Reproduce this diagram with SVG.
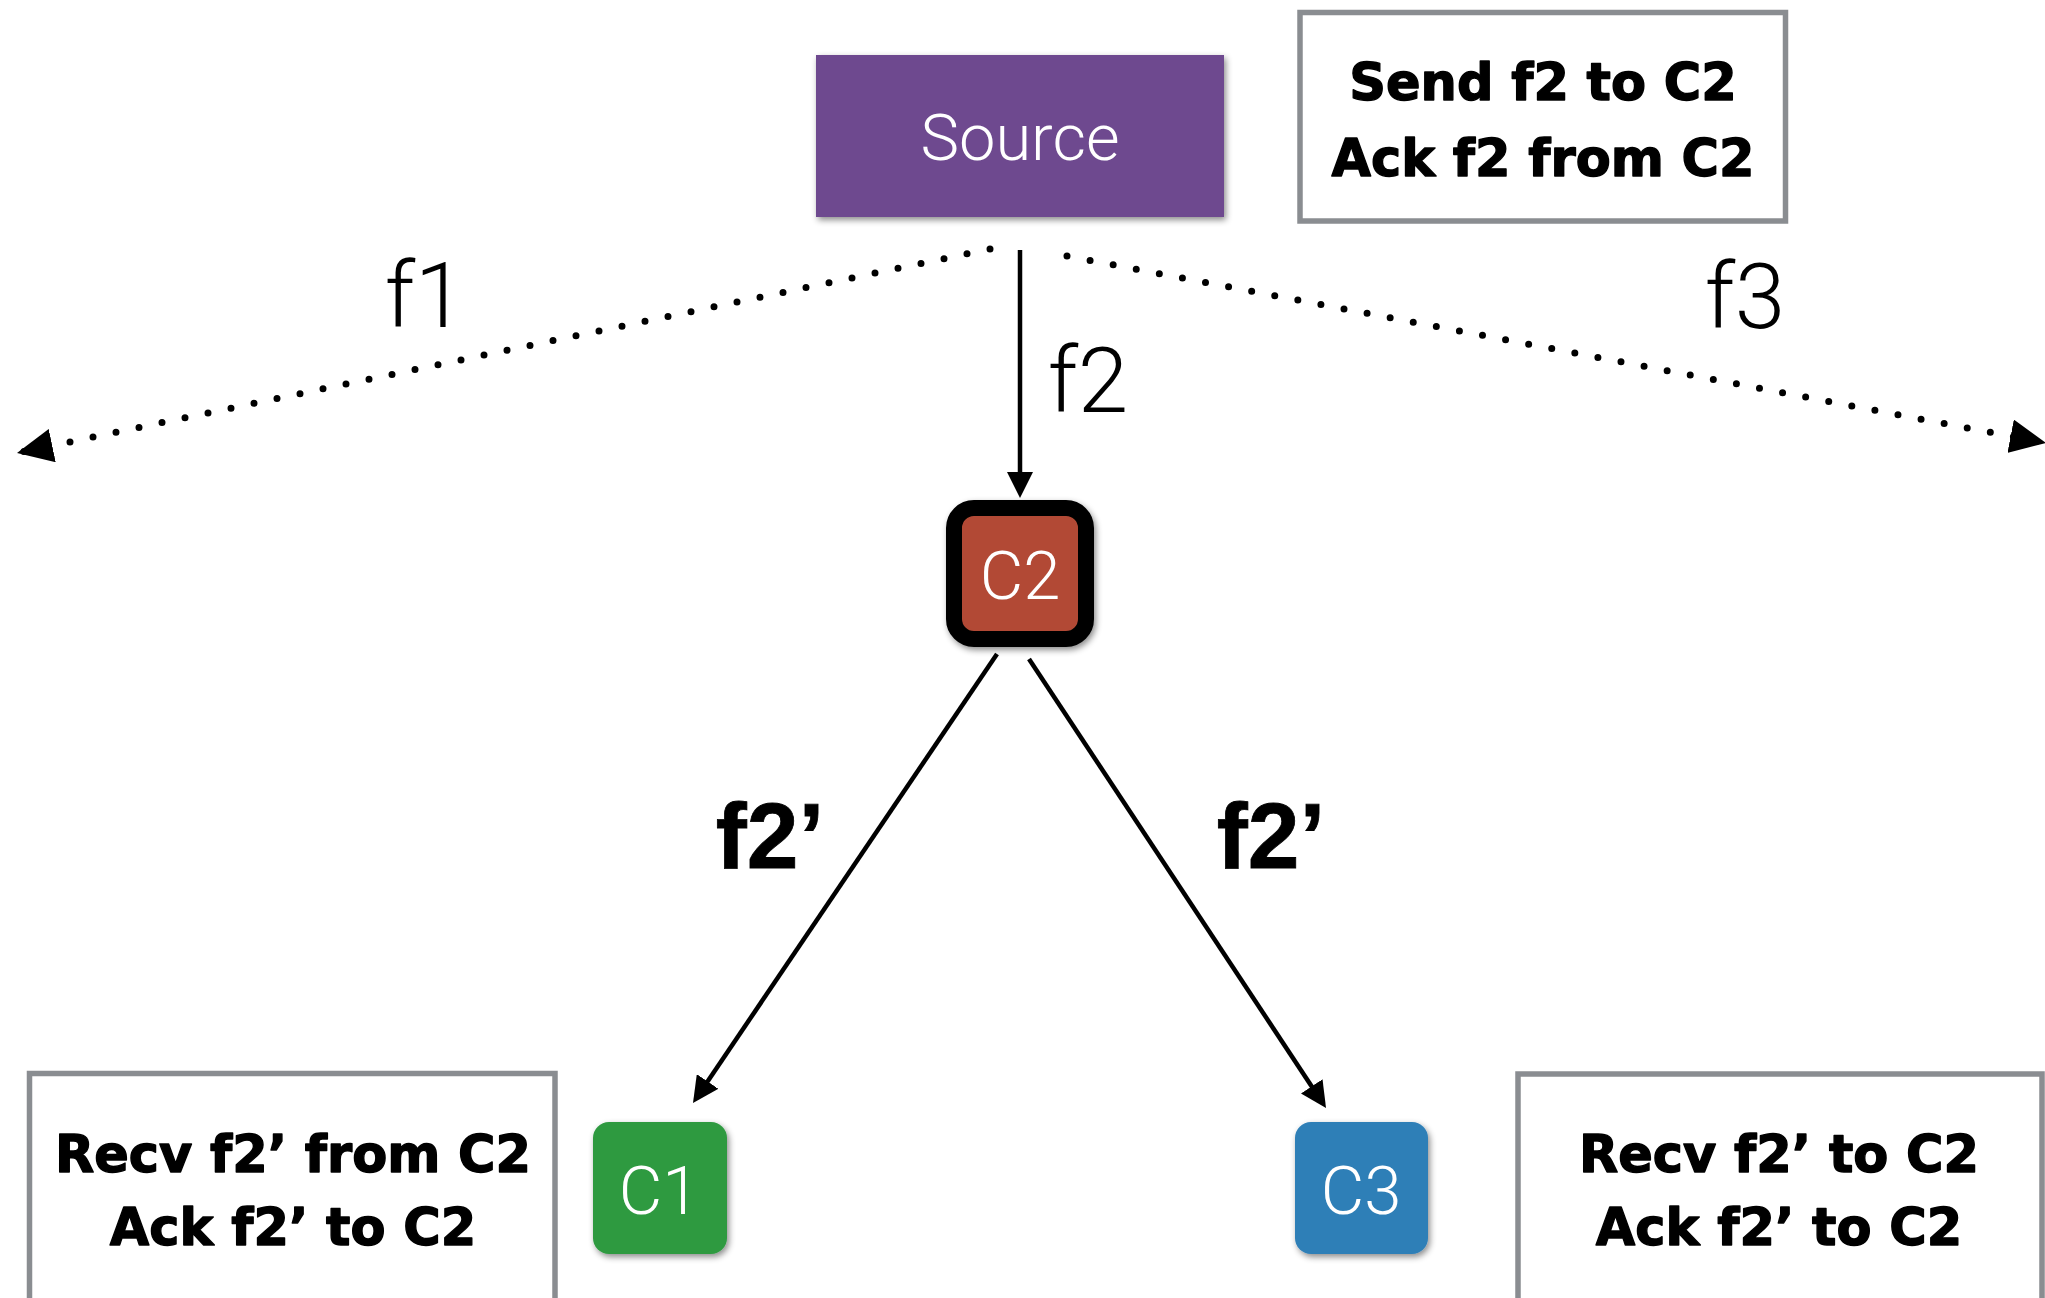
<svg xmlns="http://www.w3.org/2000/svg" width="2045" height="1298" viewBox="0 0 2045 1298">
  <defs>
    <style>
      .light { font-family: Roboto, "Liberation Sans", sans-serif; font-weight: 300; fill: #ffffff; text-anchor: middle; }
      .flow { font-family: Roboto, "Liberation Sans", sans-serif; font-weight: 300; fill: #000000; font-size: 91px; text-anchor: middle; }
      .flowb { font-family: "Liberation Sans", Arial, sans-serif; font-weight: bold; fill: #000000; font-size: 93px; text-anchor: middle; stroke: #000000; stroke-width: 0.8; }
      .note { fill: #ffffff; stroke: #8a8d91; stroke-width: 5.5; }
      .notetxt { font-family: "DejaVu Sans", sans-serif; font-weight: bold; font-size: 51px; fill: #000000; text-anchor: middle; stroke: #000000; stroke-width: 1.4; stroke-linejoin: round; }
      .solid { fill: none; stroke: #000000; stroke-width: 4.5; marker-end: url(#arr); }
      .dotted { fill: none; stroke: #000000; stroke-width: 7; stroke-linecap: round; stroke-dasharray: 0 23.5; marker-end: url(#dotArr); }
    </style>
    <filter id="shadow" x="-10%" y="-10%" width="130%" height="130%">
      <feDropShadow dx="2" dy="3" stdDeviation="3" flood-color="#000000" flood-opacity="0.45"/>
    </filter>
    <marker id="arr" markerUnits="userSpaceOnUse" markerWidth="26" markerHeight="26" refX="16" refY="13" orient="auto">
      <path d="M0,0 L26,13 L0,26 z" fill="#000000"/>
    </marker>
    <marker id="dotArr" markerUnits="userSpaceOnUse" markerWidth="36" markerHeight="34" refX="36" refY="17" orient="auto">
      <path d="M0,0 L36,17 L0,34 z" fill="#000000"/>
    </marker>
  </defs>

  <!-- connectors -->
  <g id="connectors">
    <path class="dotted" d="M990,249 L17,453"/>
    <path class="dotted" d="M1067,256 L2046,443"/>
    <path class="solid" d="M1020,250 L1020,488"/>
    <path class="solid" d="M997,654 L698.6,1094.7"/>
    <path class="solid" d="M1029,659 L1320.5,1099.7"/>
    <text class="flow" x="425" y="327">f1</text>
    <text class="flow" x="1088" y="412">f2</text>
    <text class="flow" x="1745" y="328">f3</text>
    <text class="flowb" x="770" y="868">f2’</text>
    <text class="flowb" x="1271" y="868">f2’</text>
  </g>

  <!-- source node -->
  <g id="source">
    <rect x="816" y="55" width="408" height="162" fill="#6e4a8f" filter="url(#shadow)"/>
    <text class="light" x="1020" y="160" font-size="65">Source</text>
  </g>

  <!-- C2 node (highlighted) -->
  <g id="c2">
    <rect x="954" y="508" width="132" height="131" rx="20" fill="#b24a36" stroke="#000000" stroke-width="16" filter="url(#shadow)"/>
    <text class="light" x="1020" y="599" font-size="67">C2</text>
  </g>

  <!-- C1 node -->
  <g id="c1">
    <rect x="593" y="1122" width="134" height="132" rx="16" fill="#2f9a41" filter="url(#shadow)"/>
    <text class="light" x="659" y="1214" font-size="67">C1</text>
  </g>

  <!-- C3 node -->
  <g id="c3">
    <rect x="1295" y="1122" width="133" height="132" rx="16" fill="#2f7fb7" filter="url(#shadow)"/>
    <text class="light" x="1361" y="1214" font-size="67">C3</text>
  </g>

  <!-- notes -->
  <g id="note-source">
    <rect class="note" x="1300" y="12.5" width="485.5" height="208.5"/>
    <text class="notetxt" x="1543" y="100">Send f2 to C2</text>
    <text class="notetxt" x="1543" y="176">Ack f2 from C2</text>
  </g>

  <g id="note-c1">
    <rect class="note" x="29.5" y="1073.5" width="525.5" height="300"/>
    <text class="notetxt" x="293" y="1172">Recv f2’ from C2</text>
    <text class="notetxt" x="293" y="1245">Ack f2’ to C2</text>
  </g>

  <g id="note-c3">
    <rect class="note" x="1518" y="1074" width="524" height="300"/>
    <text class="notetxt" x="1779" y="1172">Recv f2’ to C2</text>
    <text class="notetxt" x="1779" y="1245">Ack f2’ to C2</text>
  </g>
</svg>
